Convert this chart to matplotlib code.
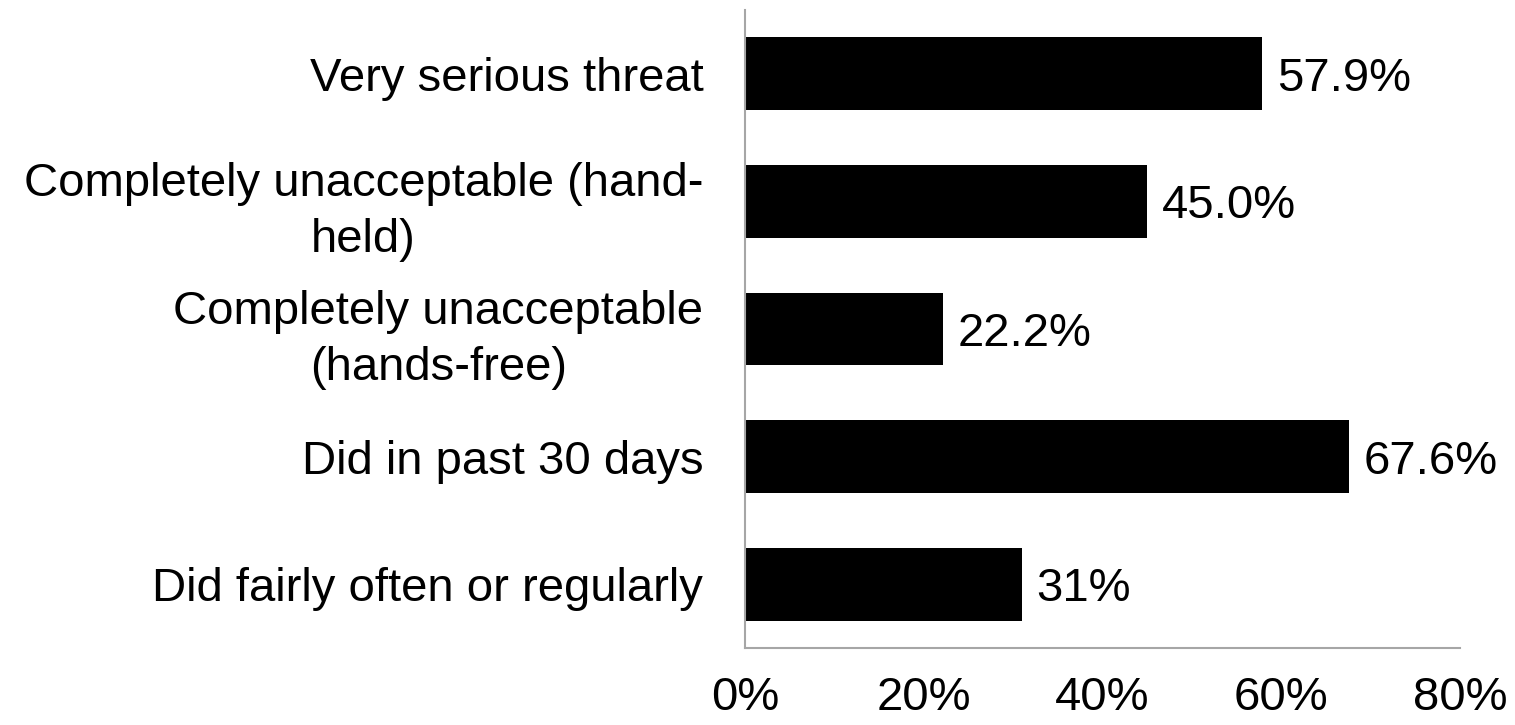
import matplotlib
matplotlib.use("Agg")
from matplotlib import pyplot as plt

# survey results, top to bottom
categories = [
    "Very serious threat",
    "Completely unacceptable (hand-\nheld)",
    "Completely unacceptable\n(hands-free)",
    "Did in past 30 days",
    "Did fairly often or regularly",
]
values = [57.9, 45.0, 22.2, 67.6, 31.0]
value_labels = ["57.9%", "45.0%", "22.2%", "67.6%", "31%"]
xticks = [0, 20, 40, 60, 80]
xtick_labels = ["0%", "20%", "40%", "60%", "80%"]

plt.rcParams['font.family'] = ['Liberation Sans', 'DejaVu Sans']
FS = 34

fig = plt.figure(figsize=(15.15, 7.25), dpi=100)
ax = fig.add_axes([745 / 1515, 1 - 648 / 725, 715 / 1515, 638 / 725])

pos = list(range(len(categories)))
ax.barh(pos, values, height=0.57, color='black')
ax.set_ylim(len(categories) - 0.5, -0.5)
ax.set_xlim(0, 80)

for p, v, lab in zip(pos, values, value_labels):
    ax.text(v + 1.6, p, lab, va='center_baseline', ha='left', fontsize=FS)

ax.set_yticks(pos)
ax.set_yticklabels(categories, fontsize=FS, multialignment='center',
                   linespacing=1.34)
ax.set_xticks(xticks)
ax.set_xticklabels(xtick_labels, fontsize=FS)
ax.tick_params(axis='both', length=0)
ax.tick_params(axis='x', pad=20)
ax.tick_params(axis='y', pad=30)

for side in ['top', 'right']:
    ax.spines[side].set_visible(False)
for side in ['left', 'bottom']:
    ax.spines[side].set_color('#a6a6a6')
    ax.spines[side].set_linewidth(1.5)

fig.savefig('out.png', dpi=100)
